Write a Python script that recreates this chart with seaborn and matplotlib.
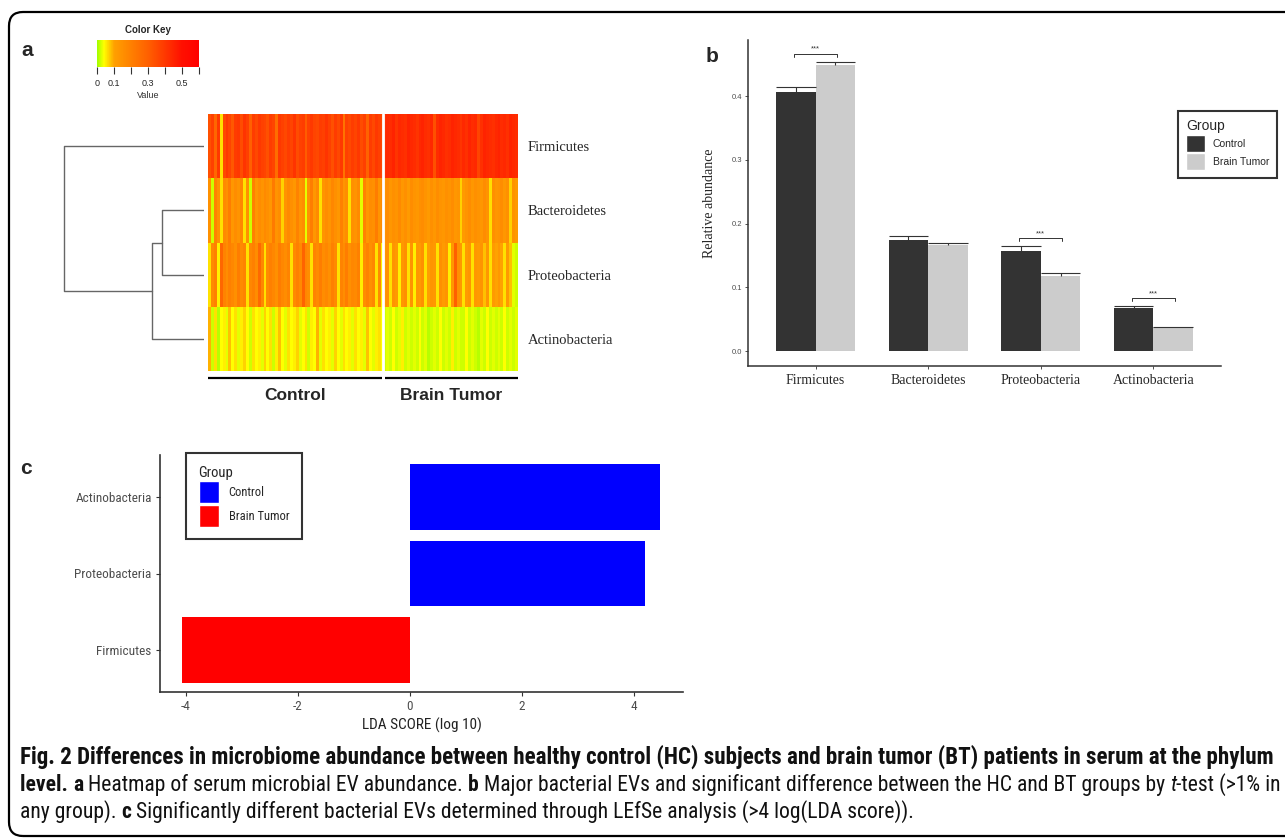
import matplotlib.pyplot as plt
import numpy as np
import pandas as pd
import seaborn as sns
from matplotlib import font_manager
from matplotlib.colors import LinearSegmentedColormap, Normalize
from matplotlib.patches import Patch, FancyBboxPatch
from matplotlib.transforms import IdentityTransform

sns.set_theme(style="ticks")
names = {f.name for f in font_manager.fontManager.ttflist}
SANS = 'Liberation Sans' if 'Liberation Sans' in names else 'DejaVu Sans'
SERIF = 'Liberation Serif' if 'Liberation Serif' in names else 'DejaVu Serif'


def pick_narrow():
    for fam in ['Liberation Sans Narrow', 'Roboto Condensed', 'Open Sans Condensed', 'DejaVu Sans Condensed']:
        if fam in names:
            return fam, 'normal', True
    for f in font_manager.fontManager.ttflist:
        if 'Condensed' in f.fname and 'Mono' not in f.name and 'Serif' not in f.name:
            return f.name, 'condensed', True
    return SANS, 'normal', False


NARROW, STRETCH, HAVE_NARROW = pick_narrow()
plt.rcParams['font.family'] = [SANS, 'DejaVu Sans']
plt.rcParams['axes.unicode_minus'] = False

# ---------------- data ----------------
phyla = ['Firmicutes', 'Bacteroidetes', 'Proteobacteria', 'Actinobacteria']
groups = ['Control', 'Brain Tumor']

# heatmap, per-sample abundance (%)
firm_ctrl = [34, 38, 28, 40, 6, 36, 40, 37, 32, 39,
             40, 35, 41, 38, 30, 39, 36, 40, 38, 37,
             34, 39, 37, 26, 40, 38, 36, 39, 37, 41,
             35, 38, 39, 31, 38, 40, 37, 36, 39, 38,
             41, 38, 34, 39, 36, 40, 24, 38, 36, 39,
             37, 40, 35, 38, 29, 39, 36, 40, 38, 36]
firm_bt = [42, 44, 43, 45, 41, 44, 43, 42, 45, 44,
           43, 41, 44, 45, 43, 42, 44, 34, 43, 45,
           44, 42, 43, 45, 44, 43, 41, 44, 42, 45,
           43, 44, 37, 42, 45, 44, 43, 42, 44, 45,
           43, 44, 42, 45, 44, 43]
bact_ctrl = [15, 2, 19, 14, 6, 17, 15, 21, 13, 16,
             14, 18, 6, 15, 2, 20, 13, 16, 14, 17,
             15, 13, 22, 14, 16, 7, 14, 17, 15, 13,
             19, 14, 16, 3, 15, 21, 13, 17, 6, 14,
             16, 14, 18, 15, 13, 20, 14, 16, 6, 15,
             14, 17, 3, 19, 13, 16, 15, 21, 14, 16]
bact_bt = [14, 16, 13, 15, 14, 17, 13, 15, 12, 16,
           14, 13, 15, 16, 14, 12, 15, 13, 16, 14,
           13, 15, 14, 16, 13, 14, 7, 12, 14, 16,
           13, 15, 14, 13, 16, 14, 6, 15, 13, 14,
           16, 13, 15, 7, 14, 12]
prot_ctrl = [6, 17, 20, 5, 28, 19, 16, 20, 18, 15,
             21, 17, 19, 6, 18, 20, 16, 27, 18, 6,
             17, 20, 18, 15, 21, 18, 16, 19, 6, 17,
             20, 17, 29, 18, 16, 6, 19, 17, 21, 16,
             18, 15, 20, 17, 6, 19, 16, 21, 15, 18,
             17, 20, 5, 16, 19, 15, 18, 6, 17, 5]
prot_bt = [13, 15, 6, 14, 12, 5, 13, 15, 6, 14,
           5, 13, 12, 15, 6, 11, 14, 13, 6, 15,
           12, 14, 5, 13, 30, 15, 13, 6, 12, 14,
           6, 13, 12, 14, 8, 13, 6, 12, 10, 13,
           10, 6, 12, 8, 3, 2]
actino_ctrl = [9, 2, 6, 1, 4, 5, 3, 8, 4, 6,
               3, 5, 7, 4, 2, 6, 4, 5, 3, 7,
               4, 6, 2, 5, 8, 4, 3, 6, 4, 5,
               7, 3, 4, 6, 2, 5, 4, 9, 3, 6,
               4, 5, 3, 7, 4, 3, 6, 4, 5, 3,
               6, 4, 5, 3, 8, 4, 3, 5, 6, 4]
actino_bt = [2, 3, 2, 4, 2, 3, 5, 2, 3, 2,
             3, 2, 4, 2, 3, 1, 2, 3, 2, 4,
             2, 3, 2, 5, 2, 3, 2, 2, 4, 2,
             3, 2, 1, 3, 2, 4, 2, 3, 2, 3,
             2, 4, 2, 3, 2, 3]

# dendrogram merge heights (relative)
h_bact_prot = 0.30
h_bpa = 0.37
h_root = 1.0

key_ticks = [0, 0.1, 0.2, 0.3, 0.4, 0.5, 0.6]
key_labels = ['0', '0.1', '', '0.3', '', '0.5', '']

# panel b
mean_ctrl = [0.407, 0.174, 0.157, 0.067]
mean_bt = [0.449, 0.166, 0.118, 0.037]
se_ctrl = [0.007, 0.006, 0.008, 0.0035]
se_bt = [0.005, 0.004, 0.005, 0.001]
signif = ['***', '', '***', '***']

# panel c
lda_taxa = ['Actinobacteria', 'Proteobacteria', 'Firmicutes']
lda_score = [4.46, 4.19, -4.07]
lda_group = ['Control', 'Control', 'Brain Tumor']

caption = [
    [("Fig. 2 Differences in microbiome abundance between healthy control (HC) subjects and brain tumor (BT) "
      "patients in serum at the phylum", 'bold', 'normal')],
    [("level. ", 'bold', 'normal'), ("a", 'bold', 'normal'),
     (" Heatmap of serum microbial EV abundance. ", 'normal', 'normal'), ("b", 'bold', 'normal'),
     (" Major bacterial EVs and significant difference between the HC and BT groups by ", 'normal', 'normal'),
     ("t", 'normal', 'italic'), ("-test (>1% in", 'normal', 'normal')],
    [("any group). ", 'normal', 'normal'), ("c", 'bold', 'normal'),
     (" Significantly different bacterial EVs determined through LEfSe analysis (>4 log(LDA score)).",
      'normal', 'normal')],
]

# ---------------- figure ----------------
W, H = 1285, 840
fig = plt.figure(figsize=(W / 100, H / 100), dpi=100)
fig.patch.set_facecolor('white')


def px(l, t, r, b):
    return [l / W, 1 - b / H, (r - l) / W, (b - t) / H]


# outer frame
fig.add_artist(FancyBboxPatch((9, H - 836), 1300, 824, boxstyle='round,pad=0,rounding_size=14',
                              transform=IdentityTransform(), fill=False, ec='black', lw=1.6))

for lab, x, y in [('a', 21, 50), ('b', 706, 57), ('c', 20, 468)]:
    fig.text(x / W, 1 - y / H, lab, fontsize=15, fontweight='bold', va='center', ha='left')

# ---- panel a: heatmap ----
cmap = LinearSegmentedColormap.from_list('key', [
    (0.0, '#A0FF00'), (0.04 / 0.6, '#FFFF00'), (0.1 / 0.6, '#FFA000'),
    (0.3 / 0.6, '#FF6000'), (0.5 / 0.6, '#FF1000'), (1.0, '#FF0000')])

ctrl = np.array([firm_ctrl, bact_ctrl, prot_ctrl, actino_ctrl]) / 100
bt = np.array([firm_bt, bact_bt, prot_bt, actino_bt]) / 100
heat = pd.DataFrame(np.hstack([ctrl, bt]), index=phyla)
n_ctrl, n_all = ctrl.shape[1], heat.shape[1]

ax_h = fig.add_axes(px(208, 114, 518, 371))
sns.heatmap(heat, cmap=cmap, vmin=0, vmax=0.6, cbar=False, xticklabels=False,
            yticklabels=phyla, ax=ax_h)
ax_h.axvline(n_ctrl, color='white', lw=2)
ax_h.yaxis.tick_right()
ax_h.tick_params(axis='y', length=0, pad=7)
for t in ax_h.get_yticklabels():
    t.set_rotation(0)
    t.set_fontfamily(SERIF)
    t.set_fontsize(10.5)
ax_h.set_ylabel('')
for x0, x1, lab in [(0, n_ctrl - 0.6, groups[0]), (n_ctrl + 0.6, n_all, groups[1])]:
    ax_h.plot([x0, x1], [4.11, 4.11], color='black', lw=1.6, clip_on=False, solid_capstyle='butt')
    ax_h.text((x0 + x1) / 2, 4.38, lab, ha='center', va='center', fontsize=12.5, fontweight='bold')

# dendrogram
ax_d = fig.add_axes(px(60, 114, 204, 371))
ax_d.set_xlim(1.03, 0)
ax_d.set_ylim(4, 0)
ax_d.axis('off')
lc = dict(color='#666666', lw=1)
ax_d.plot([0, h_bact_prot, h_bact_prot, 0], [1.5, 1.5, 2.5, 2.5], **lc)
ax_d.plot([h_bact_prot, h_bpa, h_bpa, 0], [2.0, 2.0, 3.5, 3.5], **lc)
ax_d.plot([0, h_root, h_root, h_bpa], [0.5, 0.5, 2.75, 2.75], **lc)

# color key
cax = fig.add_axes(px(97, 40, 199, 67))
cb = fig.colorbar(plt.cm.ScalarMappable(norm=Normalize(0, 0.6), cmap=cmap), cax=cax,
                  orientation='horizontal')
cb.outline.set_visible(False)
cb.set_ticks(key_ticks)
cb.set_ticklabels(key_labels)
cax.tick_params(labelsize=6.5, length=5, width=0.8, color='#333333', pad=4)
cax.set_xlabel('Value', fontsize=6.5, labelpad=2, color='#333333')
cax.set_title('Color Key', fontsize=7, fontweight='bold', pad=5)

# ---- panel b: bars ----
ax_b = fig.add_axes(px(748, 40, 1221, 366))
dfb = pd.DataFrame({'phylum': phyla * 2,
                    'group': [groups[0]] * 4 + [groups[1]] * 4,
                    'abundance': mean_ctrl + mean_bt})
sns.barplot(data=dfb, x='phylum', y='abundance', hue='group', order=phyla, hue_order=groups,
            palette=['#333333', '#CCCCCC'], width=0.7, errorbar=None, saturation=1,
            linewidth=0, legend=False, ax=ax_b)
xs = np.arange(len(phyla))
for j, (m, s) in enumerate([(mean_ctrl, se_ctrl), (mean_bt, se_bt)]):
    m, s = np.array(m), np.array(s)
    xc = xs + (j - 0.5) * 0.35
    ax_b.vlines(xc, m, m + s, color='#333333', lw=0.8)
    ax_b.hlines(m + s, xc - 0.175, xc + 0.175, color='#333333', lw=0.8)
tops = np.maximum(np.array(mean_ctrl) + se_ctrl, np.array(mean_bt) + se_bt)
for i, lab in enumerate(signif):
    if not lab:
        continue
    y = tops[i] + 0.012
    ax_b.plot([i - 0.19, i - 0.19, i + 0.19, i + 0.19], [y - 0.004, y, y, y - 0.004],
              color='#333333', lw=0.7)
    ax_b.text(i, y + 0.002, lab, ha='center', va='bottom', fontsize=5.5, color='#333333')
ax_b.set_xlim(-0.6, 3.6)
ax_b.set_ylim(-0.0235, 0.488)
ax_b.set_yticks([0, 0.1, 0.2, 0.3, 0.4])
ax_b.set_yticklabels(['0.0', '0.1', '0.2', '0.3', '0.4'])
sns.despine(ax=ax_b)
for sp in ['left', 'bottom']:
    ax_b.spines[sp].set_color('#333333')
    ax_b.spines[sp].set_linewidth(1.1)
ax_b.tick_params(axis='y', labelsize=5.5, labelcolor='#4D4D4D', length=2.5, width=0.6,
                 color='#333333', pad=2)
ax_b.tick_params(axis='x', length=2.5, width=0.6, color='#333333', pad=3)
for t in ax_b.get_xticklabels():
    t.set_fontfamily(SERIF)
    t.set_fontsize(10)
ax_b.set_xlabel('')
ax_b.set_ylabel('Relative abundance', fontfamily=SERIF, fontsize=10, labelpad=11)

leg_b = fig.legend(handles=[Patch(facecolor='#333333', label=groups[0]),
                            Patch(facecolor='#CCCCCC', label=groups[1])],
                   title='Group', loc='upper left', bbox_to_anchor=(1178 / W, 1 - 111 / H),
                   borderaxespad=0, frameon=True, fancybox=False, edgecolor='black',
                   fontsize=7.5, title_fontsize=10,
                   handlelength=1.82, handleheight=2.1, labelspacing=0.15, borderpad=0.8,
                   handletextpad=0.7, alignment='left')
leg_b.get_frame().set_linewidth(1.5)

# ---- panel c: LDA ----
ax_c = fig.add_axes(px(160, 455, 683, 692))
dfc = pd.DataFrame({'taxon': lda_taxa, 'lda': lda_score, 'group': lda_group})
sns.barplot(data=dfc, x='lda', y='taxon', hue='group', hue_order=groups, order=lda_taxa,
            palette=['#0000FF', '#FF0000'], dodge=False, width=0.86, orient='h', saturation=1,
            linewidth=0, legend=False, ax=ax_c)
ax_c.set_xlim(-4.46, 4.875)
ax_c.set_ylim(2.545, -0.545)
ax_c.set_xticks([-4, -2, 0, 2, 4])
sns.despine(ax=ax_c)
for sp in ['left', 'bottom']:
    ax_c.spines[sp].set_color('#333333')
    ax_c.spines[sp].set_linewidth(1.2)
tick_size = 9.5 if HAVE_NARROW else 8
ax_c.tick_params(length=3, width=0.8, color='#333333', labelcolor='#4D4D4D', pad=3)
for t in ax_c.get_xticklabels() + ax_c.get_yticklabels():
    t.set_fontfamily(NARROW)
    t.set_fontstretch(STRETCH)
    t.set_fontsize(tick_size)
ax_c.set_ylabel('')
ax_c.set_xlabel('LDA SCORE (log 10)', fontfamily=NARROW, fontstretch=STRETCH,
                fontsize=11 if HAVE_NARROW else 10, color='#222222', labelpad=3)

leg_c = fig.legend(handles=[Patch(facecolor='#0000FF', label=groups[0]),
                            Patch(facecolor='#FF0000', label=groups[1])],
                   title='Group', loc='upper left', bbox_to_anchor=(186 / W, 1 - 453 / H),
                   borderaxespad=0, frameon=True, fancybox=False, edgecolor='black',
                   prop={'family': NARROW, 'stretch': STRETCH, 'size': 9},
                   title_fontproperties={'family': NARROW, 'stretch': STRETCH, 'size': 10.5},
                   handlelength=1.6, handleheight=2.3, labelspacing=0.15, borderpad=1.0,
                   handletextpad=0.8, alignment='left')
leg_c.get_frame().set_linewidth(1.5)

# ---- caption ----
renderer = fig.canvas.get_renderer()


def seg_width(text, size, weight, style):
    kw = dict(fontsize=size, fontweight=weight, fontstyle=style, family=NARROW, fontstretch=STRETCH)
    t1 = fig.text(0, 0, text + '|', **kw)
    t2 = fig.text(0, 0, '|', **kw)
    w = t1.get_window_extent(renderer).width - t2.get_window_extent(renderer).width
    t1.remove()
    t2.remove()
    return w


def line_width(line, size):
    return sum(seg_width(s, size, wt, st) for s, wt, st in line)


def fit_size(line, target):
    size = 12.0
    for _ in range(4):
        size *= target / line_width(line, size)
    while line_width(line, size) > target:
        size -= 0.05
    return size


target = 1281 - 20
size_1 = fit_size(caption[0], target)
size_2 = fit_size(caption[1], target)
for line, base, size in zip(caption, [764, 791, 818], [size_1, size_2, size_2]):
    x = 20
    for s, wt, st in line:
        fig.text(x / W, 1 - base / H, s, fontsize=size, fontweight=wt, fontstyle=st,
                 family=NARROW, fontstretch=STRETCH, va='baseline', ha='left', color='#111111')
        x += seg_width(s, size, wt, st)

fig.savefig('out.png', dpi=100)
